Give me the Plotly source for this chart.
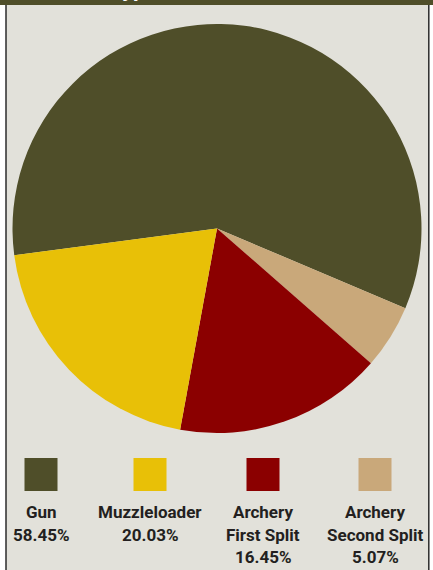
import plotly.graph_objects as go

W, H = 433, 570

# Harvest share by season type
labels = ["Gun", "Muzzleloader", "Archery First Split", "Archery Second Split"]
values = [58.45, 20.03, 16.45, 5.07]
colors = ["#4f4e29", "#e8c007", "#8b0000", "#c9a87a"]
legend_lines = [
    ["Gun", "58.45%"],
    ["Muzzleloader", "20.03%"],
    ["Archery", "First Split", "16.45%"],
    ["Archery", "Second Split", "5.07%"],
]

# slices drawn clockwise: Gun, then the two archery splits, then muzzleloader
pie_order = [0, 3, 2, 1]

FONT = "Roboto, Open Sans, sans-serif"
INK = "#231f20"


def px(x):
    return x / W


def py(y):
    return 1 - y / H


fig = go.Figure()
fig.add_trace(go.Pie(
    labels=[labels[i] for i in pie_order],
    values=[values[i] for i in pie_order],
    marker=dict(colors=[colors[i] for i in pie_order], line=dict(width=0)),
    sort=False,
    direction="clockwise",
    rotation=262.5,
    textinfo="none",
    hoverinfo="label+percent",
    showlegend=False,
    domain=dict(x=[px(12), px(422)], y=[py(433), py(24)]),
))

shapes = [
    # panel background and frame
    dict(type="rect", x0=px(6), x1=px(428.5), y0=0, y1=1,
         fillcolor="#e2e1da", line=dict(width=0), layer="below"),
    dict(type="line", x0=px(6), x1=px(6), y0=0, y1=1,
         line=dict(color="#2b2b2b", width=1.5), layer="below"),
    dict(type="line", x0=px(428.8), x1=px(428.8), y0=0, y1=1,
         line=dict(color="#2b2b2b", width=1.5), layer="below"),
    # header band
    dict(type="rect", x0=0, x1=1, y0=py(5), y1=1,
         fillcolor="#4f4e29", line=dict(width=0), layer="below"),
]

annotations = [
    dict(text="<b>Season Type</b>", x=px(159), y=py(3.2), xref="paper", yref="paper",
         xanchor="right", yanchor="bottom", showarrow=False,
         font=dict(family=FONT, size=22, color="white")),
]

centers = [41, 150, 263, 375]
line_y = [512, 535, 557]
for k, cx in enumerate(centers):
    shapes.append(dict(type="rect", x0=px(cx - 16.5), x1=px(cx + 16.5),
                       y0=py(491), y1=py(458), fillcolor=colors[k],
                       line=dict(width=0)))
    for j, t in enumerate(legend_lines[k]):
        annotations.append(dict(
            text="<b>" + t + "</b>", x=px(cx), y=py(line_y[j]),
            xref="paper", yref="paper", xanchor="center", yanchor="middle",
            showarrow=False,
            font=dict(family=FONT, size=17, color=INK)))

fig.update_layout(
    width=W, height=H,
    margin=dict(l=0, r=0, t=0, b=0),
    paper_bgcolor="white",
    plot_bgcolor="white",
    shapes=shapes,
    annotations=annotations,
)

fig.write_html("out.html")
